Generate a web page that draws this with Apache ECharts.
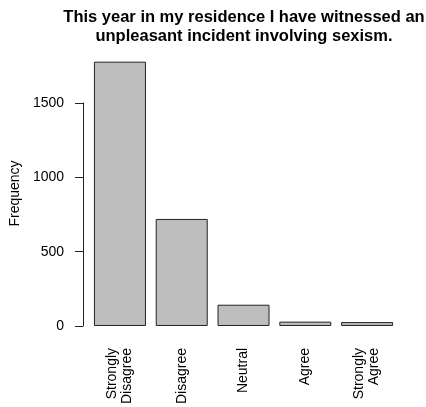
<!DOCTYPE html>
<html>
<head>
<meta charset="utf-8">
<script src="https://cdn.jsdelivr.net/npm/echarts@6/dist/echarts.min.js"></script>
<style>
  html, body { margin: 0; padding: 0; background: #fff; }
  #chart { width: 426px; height: 407px; }
</style>
</head>
<body>
<div id="chart"></div>
<script>
// responses to the sexism question
const categories = ['Strongly\nDisagree', 'Disagree', 'Neutral', 'Agree', 'Strongly\nAgree']
const counts = [1778, 720, 143, 29, 26]
const yTicks = [0, 500, 1000, 1500]

const font = 'Liberation Sans, Arial, Helvetica, sans-serif'

const chart = echarts.init(document.getElementById('chart'))

const option = {
  animation: false,
  backgroundColor: '#fff',
  title: {
    text: 'This year in my residence I have witnessed an\nunpleasant incident involving sexism.',
    left: 239,
    top: 3,
    textAlign: 'center',
    textStyle: {
      fontFamily: font,
      fontSize: 16.5,
      fontWeight: 'bold',
      lineHeight: 19,
      color: '#000'
    }
  },
  grid: {
    left: 87,
    width: 311,
    top: 103,
    bottom: 76,
    containLabel: false
  },
  xAxis: {
    type: 'category',
    data: categories,
    axisLine: { show: false },
    axisTick: { show: false },
    axisLabel: {
      rotate: 90,
      margin: 22,
      fontFamily: font,
      fontSize: 14,
      lineHeight: 15,
      color: '#000'
    }
  },
  yAxis: {
    type: 'value',
    min: yTicks[0],
    max: yTicks[yTicks.length - 1],
    interval: 500,
    offset: 6,
    name: 'Frequency',
    nameLocation: 'middle',
    nameRotate: 90,
    nameGap: 59,
    nameTextStyle: {
      fontFamily: font,
      fontSize: 14,
      color: '#000',
      padding: [0, 0, 0, 42]
    },
    axisLine: { show: true, lineStyle: { color: '#222', width: 1 } },
    axisTick: { show: true, length: 8, lineStyle: { color: '#222', width: 1 } },
    axisLabel: {
      margin: 19,
      fontFamily: font,
      fontSize: 14,
      color: '#000',
      formatter: v => String(v)
    },
    splitLine: { show: false }
  },
  series: [
    {
      type: 'bar',
      data: counts,
      barWidth: 52,
      clip: false,
      itemStyle: {
        color: '#bebebe',
        borderColor: '#222',
        borderWidth: 1
      }
    }
  ]
}

chart.setOption(option)
</script>
</body>
</html>
